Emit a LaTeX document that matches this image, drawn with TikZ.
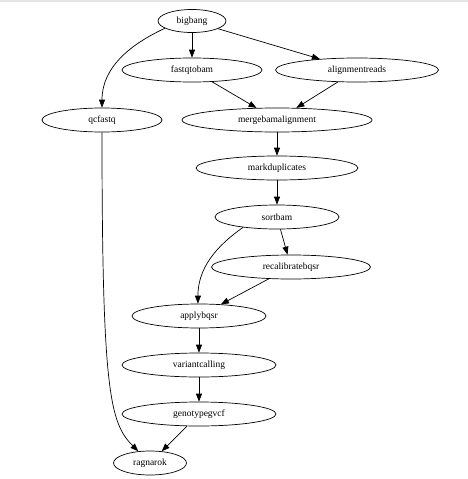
\documentclass[tikz,border=0pt]{standalone}
\usepackage{fontspec}
\setmainfont{Liberation Serif}
\usetikzlibrary{shapes.geometric,arrows.meta}
\begin{document}
\begin{tikzpicture}[x=1pt, y=1pt, ->, >={Triangle[length=8pt,width=6pt]}, line width=0.7pt,
  task/.style = {draw, ellipse, inner sep=0pt, minimum height=24pt, font=\fontsize{9.5}{11}\selectfont}]
            \useasboundingbox (0,0) rectangle (468,-479);
            \fill[gray!20, draw=none] (0,0) rectangle (468,-1.5);

            \node[task, minimum height=23pt, minimum width=68pt] (bigbang) at (192,-21) {bigbang};
            \node[task, minimum width=140pt] (fastqtobam) at (192,-70) {fastqtobam};
            \node[task, minimum width=163pt] (alignmentreads) at (357,-70) {alignmentreads};
            \node[task, minimum width=120pt] (qcfastq) at (102,-120) {qcfastq};
            \node[task, minimum width=190pt] (mergebamalignment) at (277,-120) {mergebamalignment};
            \node[task, minimum width=162pt] (markduplicates) at (277,-168) {markduplicates};
            \node[task, minimum width=124pt] (sortbam) at (277,-217) {sortbam};
            \node[task, minimum width=159pt] (recalibratebqsr) at (291,-267) {recalibratebqsr};
            \node[task, minimum width=134pt] (applybqsr) at (199,-316) {applybqsr};
            \node[task, minimum width=154pt] (variantcalling) at (199,-365) {variantcalling};
            \node[task, minimum width=154pt] (genotypegvcf) at (199,-414) {genotypegvcf};
            \node[task, minimum width=73pt] (ragnarok) at (150,-463) {ragnarok};

            \path (bigbang) edge (fastqtobam);
            \path (bigbang) edge (alignmentreads);
            \path (bigbang.195) edge [out=205, in=90] (qcfastq);
            \path (fastqtobam) edge (mergebamalignment);
            \path (alignmentreads) edge (mergebamalignment);
            \path (mergebamalignment) edge (markduplicates);
            \path (markduplicates) edge (sortbam);
            \path (sortbam) edge (recalibratebqsr);
            \path (sortbam.197) edge [out=215, in=90] (applybqsr.95);
            \path (recalibratebqsr) edge (applybqsr);
            \path (applybqsr) edge (variantcalling);
            \path (variantcalling) edge (genotypegvcf);
            \path (genotypegvcf) edge (ragnarok);
            \path (qcfastq) edge [out=-90, in=135, out distance=260pt, in distance=40pt] (ragnarok);
        \end{tikzpicture}
\end{document}
